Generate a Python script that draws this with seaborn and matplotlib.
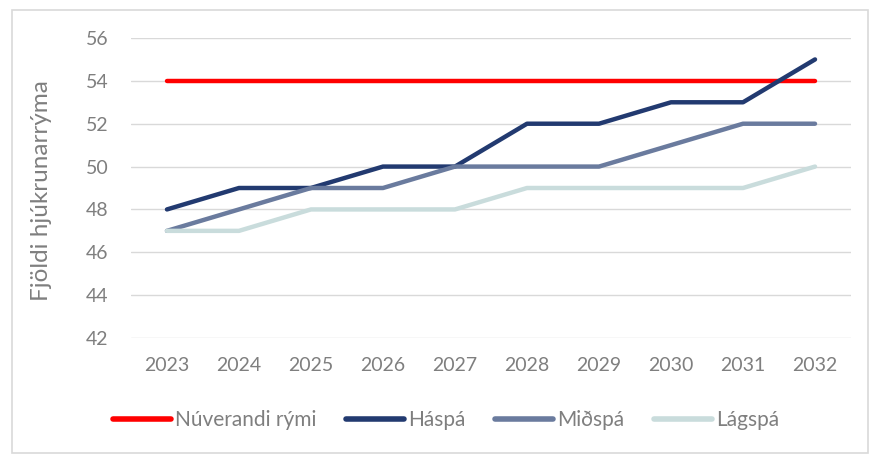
import matplotlib
matplotlib.use("Agg")
import matplotlib.pyplot as plt
import seaborn as sns
import pandas as pd
from matplotlib.patches import Rectangle

ar = [2023, 2024, 2025, 2026, 2027, 2028, 2029, 2030, 2031, 2032]
nuverandi = [54, 54, 54, 54, 54, 54, 54, 54, 54, 54]
haspa = [48, 49, 49, 50, 50, 52, 52, 53, 53, 55]
midspa = [47, 48, 49, 49, 50, 50, 50, 51, 52, 52]
lagspa = [47, 47, 48, 48, 48, 49, 49, 49, 49, 50]

nofn = ['Núverandi rými', 'Háspá', 'Miðspá', 'Lágspá']
litir = ['#FF0000', '#223A70', '#6A7B9E', '#C9DCDC']

gogn = pd.DataFrame({'ar': [str(a) for a in ar] * 4,
                     'fjoldi': nuverandi + haspa + midspa + lagspa,
                     'spa': sum([[n] * len(ar) for n in nofn], [])})

sns.set_style("white")
plt.rcParams['font.family'] = ['Lato', 'DejaVu Sans']
grar = '#7F7F7F'

fig = plt.figure(figsize=(8.69, 4.54), dpi=100)
ax = fig.add_axes([0.1507, 0.2555, 0.8286, 0.6608])
sns.lineplot(data=gogn, x='ar', y='fjoldi', hue='spa', palette=litir,
             linewidth=3.2, sort=False, ax=ax, solid_capstyle='round')

ax.set_xlim(-0.5, 9.5)
ax.set_ylim(42, 56)
ax.set_yticks(range(42, 57, 2))
ax.grid(axis='y', color='#D9D9D9', linewidth=1)
ax.set_axisbelow(True)
for s in ax.spines.values():
    s.set_visible(False)
ax.tick_params(axis='both', length=0, labelsize=14, colors=grar)
ax.tick_params(axis='y', pad=16)
ax.tick_params(axis='x', pad=14)
ax.set_xlabel('')
ax.set_ylabel('Fjöldi hjúkrunarrýma', fontsize=17.5, color=grar)
ax.yaxis.set_label_coords(-0.109, 0.49)

leg = ax.legend(loc='center', bbox_to_anchor=(0.4375, -0.273), ncol=4, frameon=False,
                fontsize=15, handlelength=2.8, handletextpad=0.2, columnspacing=1.4)
for t in leg.get_texts():
    t.set_color(grar)
for h in leg.get_lines():
    h.set_linewidth(4)
    h.set_solid_capstyle('round')

fig.patches.append(Rectangle((12 / 869, 0.002), 1 - 13 / 869, 1 - 10 / 454 - 0.002,
                             transform=fig.transFigure, fill=False,
                             edgecolor='#D9D9D9', linewidth=1.2))

fig.savefig('out.png', dpi=100)
